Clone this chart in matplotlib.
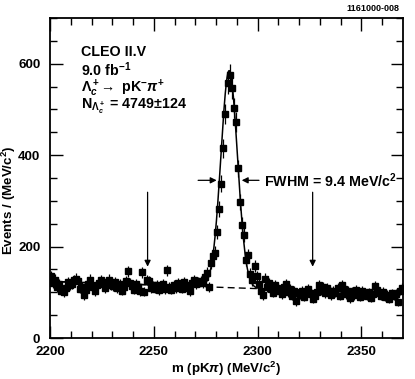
import numpy as np
import matplotlib
matplotlib.use("Agg")
import matplotlib.pyplot as plt

plt.rcParams["font.family"] = ["Liberation Sans", "DejaVu Sans"]
plt.rcParams["font.weight"] = "bold"
plt.rcParams["mathtext.fontset"] = "custom"
plt.rcParams["mathtext.rm"] = "Liberation Sans:bold"
plt.rcParams["mathtext.it"] = "Liberation Sans:italic:bold"
plt.rcParams["mathtext.bf"] = "Liberation Sans:bold"

# 1 MeV bins, 2200-2370
bin_lo = 2200
counts = [
    135, 121, 128, 112, 118, 104, 100, 110, 122, 115,
    118, 126, 130, 124, 108, 112, 94, 105, 119, 128,
    112, 102, 116, 121, 127, 118, 110, 123, 128, 117,
    114, 122, 109, 119, 104, 112, 125, 146, 120, 113,
    106, 118, 111, 102, 144, 101, 127, 124, 110, 115,
    108, 116, 105, 112, 118, 107, 148, 112, 106, 117,
    110, 121, 114, 108, 123, 117, 110, 102, 120, 126,
    118, 123, 125, 121, 134, 143, 112, 164, 179, 187,
    232, 282, 338, 415, 490, 558, 576, 547, 503, 472,
    371, 297, 248, 226, 170, 182, 141, 126, 158, 135,
    118, 102, 94, 130, 112, 121, 108, 99, 116, 110,
    104, 96, 112, 119, 100, 108, 92, 103, 80, 98,
    95, 104, 90, 101, 108, 97, 86, 93, 100, 117,
    105, 112, 98, 109, 102, 94, 104, 99, 110, 92,
    117, 108, 96, 103, 87, 101, 94, 106, 98, 90,
    104, 97, 92, 100, 88, 96, 114, 105, 99, 93,
    101, 90, 95, 86, 98, 92, 97, 78, 104, 110,
]

# fit parameters
peak_mass = 2286.3
fwhm = 9.4
n_signal = 4749
bkg_left = 124    # background at 2200
bkg_right = 97    # background at 2370

# arrows marking sideband / signal region
arrow_x = [2247, 2326.5]

mass = bin_lo + 0.5 + np.arange(len(counts))
counts = np.array(counts, dtype=float)
errs = np.sqrt(counts)

sigma = fwhm / 2.3548
xf = np.linspace(2200, 2370, 1000)
bkg = bkg_left + (bkg_right - bkg_left) * (xf - 2200) / 170.0
sig = n_signal / (sigma * np.sqrt(2 * np.pi)) * np.exp(-0.5 * ((xf - peak_mass) / sigma) ** 2)

fig = plt.figure(figsize=(4.15, 3.79), dpi=100)
ax = fig.add_axes([0.1205, 0.108, 0.8505, 0.8445])

ax.plot(xf, bkg, color="black", lw=1.0, ls=(0, (5, 3)))
ax.plot(xf, bkg + sig, color="black", lw=1.1)
ax.errorbar(mass, counts, yerr=errs, fmt="s", color="black", ms=4.2,
            elinewidth=0.9, capsize=0)

for xa in arrow_x:
    ax.annotate("", xy=(xa, 150), xytext=(xa, 325),
                arrowprops=dict(arrowstyle="-|>", color="black", lw=0.9,
                                mutation_scale=9))

ax.annotate("", xy=(peak_mass - fwhm / 2, 345), xytext=(2270, 345),
            arrowprops=dict(arrowstyle="-|>", color="black", lw=0.9, mutation_scale=9))
ax.annotate("", xy=(peak_mass + fwhm / 2, 345), xytext=(2302, 345),
            arrowprops=dict(arrowstyle="-|>", color="black", lw=0.9, mutation_scale=9))
ax.text(2303, 345, r"FWHM = 9.4 MeV/c$^2$", fontsize=10.3, fontweight="bold", va="center")

fs = 10.3
ax.text(2215, 626, "CLEO II.V", fontsize=fs, fontweight="bold", va="center")
ax.text(2215, 588, r"9.0 fb$^{-1}$", fontsize=fs, fontweight="bold", va="center")
ax.text(2215, 546, r"$\Lambda_c^+\!\rightarrow$ pK$^{-}\pi^{+}$", fontsize=fs,
        fontweight="bold", va="center")
ax.text(2215, 506, r"N$_{\Lambda_c^+}$ = 4749$\pm$124", fontsize=fs,
        fontweight="bold", va="center")

ax.set_xlim(2200, 2370)
ax.set_ylim(0, 700)
ax.set_xticks([2200, 2250, 2300, 2350])
ax.set_xticks(np.arange(2210, 2370, 10), minor=True)
ax.set_yticks([0, 200, 400, 600])
ax.set_yticks(np.arange(0, 701, 50), minor=True)
ax.tick_params(which="both", direction="in", top=True, right=True, labelsize=9.6, width=1.0)
ax.tick_params(which="major", length=9)
ax.tick_params(which="minor", length=5)
ax.tick_params(axis="x", which="major", pad=6)
ax.tick_params(axis="y", which="major", pad=7)
for lab in ax.get_xticklabels() + ax.get_yticklabels():
    lab.set_fontweight("bold")
for s in ax.spines.values():
    s.set_linewidth(1.3)

fig.text(0.545, 1 - 368.5 / 379, r"m (pK$\pi$) (MeV/c$^2$)", fontsize=9.6,
         fontweight="bold", ha="center", va="center")
fig.text(9 / 415, 1 - 200 / 379, r"Events / (MeV/c$^2$)", fontsize=9.6,
         fontweight="bold", ha="center", va="center", rotation=90)

fig.text(0.963, 0.978, "1161000-008", fontsize=6.5, fontweight="bold", ha="right", va="center")

fig.savefig("out.png", dpi=100)
